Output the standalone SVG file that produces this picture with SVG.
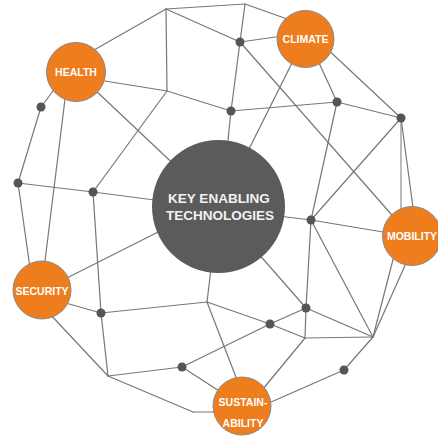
<svg xmlns="http://www.w3.org/2000/svg" width="438" height="437" viewBox="0 0 438 437">
<style>
.e{stroke:#777;stroke-width:1.2;fill:none;stroke-linecap:round}
.lt{stroke:#bbb;stroke-width:2;fill:none}
.dot{fill:#555}
.n{fill:#EE7D1E;stroke:#8a8a8a;stroke-width:1}
.k{fill:#5b5b5b}
.t{font-family:"Liberation Sans",Arial,sans-serif;font-weight:bold;font-size:10.5px;fill:#fff;text-anchor:middle}
.kt{font-family:"Liberation Sans",Arial,sans-serif;font-weight:bold;font-size:13.5px;fill:#f2f2f2;text-anchor:middle}
</style>
<rect width="438" height="437" fill="#fff"/>
<g id="connectors">
<line class="lt" x1="401" y1="118" x2="401" y2="215"/>
<line class="e" x1="80" y1="58" x2="166" y2="9"/>
<line class="e" x1="80" y1="77" x2="167" y2="91"/>
<line class="e" x1="76" y1="72" x2="218" y2="206"/>
<line class="e" x1="41" y1="107" x2="59" y2="83"/>
<line class="e" x1="68" y1="75" x2="42" y2="285"/>
<line class="e" x1="166" y1="9" x2="245" y2="4"/>
<line class="e" x1="166" y1="9" x2="167" y2="91"/>
<line class="e" x1="166" y1="9" x2="240" y2="42"/>
<line class="e" x1="167" y1="91" x2="231" y2="111"/>
<line class="e" x1="167" y1="91" x2="93" y2="192"/>
<line class="e" x1="41" y1="107" x2="18" y2="183"/>
<line class="e" x1="18" y1="183" x2="93" y2="192"/>
<line class="e" x1="18" y1="183" x2="31" y2="275"/>
<line class="e" x1="93" y1="192" x2="170" y2="202"/>
<line class="e" x1="93" y1="192" x2="101" y2="313"/>
<line class="e" x1="55" y1="284" x2="170" y2="226"/>
<line class="e" x1="55" y1="300" x2="101" y2="313"/>
<line class="e" x1="48" y1="312" x2="108" y2="376"/>
<line class="e" x1="101" y1="313" x2="207" y2="302"/>
<line class="e" x1="101" y1="313" x2="108" y2="376"/>
<line class="e" x1="108" y1="376" x2="182" y2="367"/>
<line class="e" x1="108" y1="376" x2="193" y2="412"/>
<line class="e" x1="193" y1="412" x2="225" y2="412"/>
<line class="e" x1="182" y1="367" x2="230" y2="398"/>
<line class="e" x1="182" y1="367" x2="270" y2="324"/>
<line class="e" x1="270" y1="324" x2="306" y2="308"/>
<line class="e" x1="207" y1="302" x2="212" y2="260"/>
<line class="e" x1="207" y1="302" x2="270" y2="324"/>
<line class="e" x1="270" y1="324" x2="305" y2="338"/>
<line class="e" x1="207" y1="302" x2="239" y2="385"/>
<line class="e" x1="250" y1="244" x2="306" y2="308"/>
<line class="e" x1="306" y1="308" x2="311" y2="220"/>
<line class="e" x1="306" y1="308" x2="305" y2="338"/>
<line class="e" x1="306" y1="308" x2="373" y2="337"/>
<line class="e" x1="305" y1="338" x2="373" y2="337"/>
<line class="e" x1="305" y1="338" x2="258" y2="395"/>
<line class="e" x1="373" y1="337" x2="311" y2="220"/>
<line class="e" x1="373" y1="337" x2="396" y2="248"/>
<line class="e" x1="373" y1="337" x2="411" y2="252"/>
<line class="e" x1="373" y1="337" x2="344" y2="370"/>
<line class="e" x1="344" y1="370" x2="262" y2="406"/>
<line class="e" x1="270" y1="215" x2="311" y2="220"/>
<line class="e" x1="311" y1="220" x2="337" y2="102"/>
<line class="e" x1="311" y1="220" x2="401" y2="118"/>
<line class="e" x1="311" y1="220" x2="395" y2="234"/>
<line class="e" x1="290" y1="35" x2="240" y2="42"/>
<line class="e" x1="245" y1="4" x2="290" y2="20"/>
<line class="e" x1="297" y1="53" x2="243" y2="161"/>
<line class="e" x1="314" y1="52" x2="337" y2="102"/>
<line class="e" x1="323" y1="45" x2="401" y2="118"/>
<line class="e" x1="240" y1="42" x2="231" y2="111"/>
<line class="e" x1="240" y1="42" x2="398" y2="222"/>
<line class="e" x1="245" y1="4" x2="240" y2="42"/>
<line class="e" x1="231" y1="111" x2="337" y2="102"/>
<line class="e" x1="231" y1="111" x2="227" y2="150"/>
<line class="e" x1="337" y1="102" x2="401" y2="118"/>
<line class="e" x1="401" y1="118" x2="414" y2="215"/>
</g>
<g id="dots">
<circle class="dot" cx="41" cy="107" r="4.5"/>
<circle class="dot" cx="18" cy="183" r="4.5"/>
<circle class="dot" cx="93" cy="192" r="4.5"/>
<circle class="dot" cx="240" cy="42" r="4.5"/>
<circle class="dot" cx="231" cy="111" r="4.5"/>
<circle class="dot" cx="337" cy="102" r="4.5"/>
<circle class="dot" cx="401" cy="118" r="4.5"/>
<circle class="dot" cx="311" cy="220" r="4.5"/>
<circle class="dot" cx="101" cy="313" r="4.5"/>
<circle class="dot" cx="182" cy="367" r="4.5"/>
<circle class="dot" cx="306" cy="308" r="4.5"/>
<circle class="dot" cx="270" cy="324" r="4.5"/>
<circle class="dot" cx="344" cy="370" r="4.5"/>
</g>
<g id="ket">
<circle class="k" cx="218.5" cy="206.5" r="66.5"/>
<text class="kt" x="219" y="203">KEY ENABLING</text>
<text class="kt" x="220" y="220">TECHNOLOGIES</text>
</g>
<g id="health">
<circle class="n" cx="76" cy="72" r="29.5"/>
<text class="t" x="76" y="76">HEALTH</text>
</g>
<g id="climate">
<circle class="n" cx="305.5" cy="39" r="28.5"/>
<text class="t" x="305.5" y="42.5">CLIMATE</text>
</g>
<g id="mobility">
<circle class="n" cx="412" cy="236" r="29.5"/>
<text class="t" x="412" y="240">MOBILITY</text>
</g>
<g id="security">
<circle class="n" cx="42" cy="290" r="29"/>
<text class="t" x="42" y="294.5">SECURITY</text>
</g>
<g id="sustainability">
<circle class="n" cx="242" cy="406" r="29"/>
<text class="t" x="243" y="406">SUSTAIN-</text>
<text class="t" x="243" y="427">ABILITY</text>
</g>
</svg>
